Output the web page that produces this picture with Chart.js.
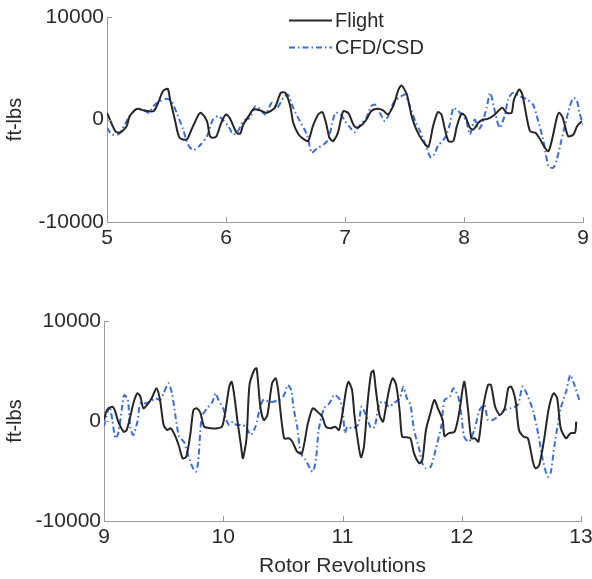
<!DOCTYPE html>
<html>
<head>
<meta charset="utf-8">
<script src="https://cdn.jsdelivr.net/npm/chart.js@4.4.1/dist/chart.umd.min.js"></script>
<style>
  html, body { margin: 0; padding: 0; background: #fff; }
  #wrap { position: relative; width: 592px; height: 579px; }
  #topBox { position: absolute; left: 0; top: 0; width: 592px; height: 260px; }
  #botBox { position: absolute; left: 0; top: 260px; width: 592px; height: 319px; }
</style>
</head>
<body>
<div id="wrap">
  <div id="topBox"><canvas id="topChart"></canvas></div>
  <div id="botBox"><canvas id="botChart"></canvas></div>
</div>
<script>
// Rotor revolutions 5-9: measured flight loads (ft-lbs)
const flightRevA = [5.00,5.07,5.11,5.165,5.19,5.25,5.305,5.39,5.43,5.47,5.51,5.53,5.57,5.61,5.67,5.71,5.77,5.79,5.84,5.865,5.89,5.92,5.96,6.00,6.03,6.09,6.12,6.145,6.19,6.23,6.285,6.34,6.41,6.46,6.50,6.54,6.565,6.61,6.65,6.69,6.73,6.775,6.81,6.84,6.87,6.90,6.94,6.985,7.03,7.07,7.10,7.145,7.18,7.22,7.27,7.32,7.36,7.41,7.45,7.475,7.52,7.56,7.60,7.645,7.70,7.74,7.78,7.81,7.84,7.87,7.91,7.94,7.98,8.01,8.05,8.08,8.12,8.16,8.20,8.26,8.32,8.36,8.40,8.42,8.465,8.49,8.52,8.555,8.60,8.64,8.68,8.71,8.74,8.78,8.80,8.83,8.875,8.92,8.95,8.99];
const flightLoadA = [650,-1140,-1270,-650,320,1040,900,810,1630,2760,3000,1950,0,-1790,-1950,-980,490,650,-160,-1630,-1790,-1630,-320,490,160,-1300,-1370,-490,330,975,900,650,1140,2600,2600,1300,-320,-1460,-1890,-2110,-650,490,715,-320,-1790,-2110,-1300,810,600,-490,-810,-490,0,810,1040,900,490,1460,2930,3320,2440,330,-980,-1950,-2670,-650,715,490,-980,-2110,-2110,-650,585,330,-810,-975,-320,0,65,490,1140,650,650,1950,2930,2440,650,-1140,-1300,-1950,-2760,-3090,-1950,160,650,160,-1630,-1460,-650,-160];

// Rotor revolutions 5-9: CFD/CSD prediction (ft-lbs)
const cfdRevA = [5.00,5.04,5.10,5.15,5.19,5.25,5.305,5.35,5.39,5.43,5.50,5.54,5.585,5.64,5.68,5.725,5.78,5.84,5.89,5.935,5.97,6.02,6.06,6.10,6.145,6.20,6.245,6.285,6.33,6.385,6.43,6.48,6.52,6.565,6.62,6.68,6.72,6.76,6.82,6.86,6.89,6.92,6.965,7.00,7.045,7.08,7.13,7.18,7.22,7.25,7.30,7.335,7.375,7.415,7.475,7.505,7.545,7.59,7.63,7.68,7.72,7.75,7.78,7.84,7.88,7.91,7.935,7.98,8.02,8.05,8.09,8.12,8.15,8.19,8.22,8.25,8.275,8.30,8.345,8.37,8.41,8.47,8.53,8.58,8.62,8.665,8.71,8.75,8.78,8.82,8.86,8.89,8.92,8.95,8.97,9.00];
const cfdLoadA = [-810,-1460,-1400,-490,330,1040,975,650,1300,1700,2020,1790,650,-980,-2440,-2990,-2540,-1630,0,330,0,-650,-1460,-1140,-160,160,1300,1000,490,1630,1140,2110,2440,1140,-160,-1460,-3250,-2860,-2440,-1950,-490,650,490,-160,-810,-1240,-490,160,1300,1460,490,-160,650,1790,2280,2440,1300,-160,-1140,-2600,-3700,-3400,-2600,-1790,-490,1140,975,490,-160,-1460,0,-980,-490,1140,2600,1300,0,-810,490,1950,2600,2280,1950,1460,0,-1950,-4550,-4710,-3900,-1950,0,1300,2110,1790,650,-490];

// Rotor revolutions 9-13: measured flight loads (ft-lbs)
const flightRevB = [9.00,9.025,9.07,9.09,9.12,9.165,9.19,9.22,9.25,9.28,9.305,9.33,9.36,9.40,9.44,9.47,9.50,9.53,9.56,9.60,9.63,9.66,9.69,9.725,9.75,9.78,9.81,9.84,9.90,9.95,9.99,10.02,10.05,10.07,10.09,10.12,10.15,10.165,10.195,10.22,10.26,10.28,10.31,10.34,10.37,10.41,10.44,10.46,10.51,10.55,10.58,10.62,10.66,10.71,10.75,10.79,10.83,10.86,10.90,10.94,10.97,11.00,11.03,11.05,11.08,11.10,11.13,11.155,11.18,11.21,11.24,11.26,11.28,11.31,11.34,11.36,11.39,11.42,11.45,11.48,11.50,11.54,11.57,11.60,11.645,11.67,11.70,11.74,11.77,11.80,11.84,11.855,11.89,11.94,11.98,12.02,12.05,12.08,12.11,12.14,12.175,12.22,12.245,12.28,12.32,12.36,12.39,12.415,12.45,12.48,12.52,12.555,12.60,12.62,12.65,12.69,12.73,12.77,12.80,12.83,12.875,12.91,12.95,12.96];
const flightLoadB = [100,1100,1430,1100,-70,-1070,-900,430,1930,2770,2430,1270,1600,2270,3270,2100,-400,-900,-730,-1570,-2570,-3730,-3570,-1230,1100,1270,770,-570,-730,-730,-570,1100,3430,3930,2770,-70,-2570,-3730,-1730,3600,5100,5270,1500,100,600,3770,4270,3100,-1730,-1730,-2070,-3070,-3230,-230,1270,930,430,-570,-730,-570,-900,770,3100,3930,3100,600,-2070,-3630,-2570,1770,4770,5030,3100,600,-70,1100,3100,4270,3600,930,-1570,-1630,-1730,-3230,-4230,-3900,-900,930,2100,1270,100,-1500,-1230,-1070,930,3930,1430,-1730,-1730,-2070,1100,3600,3600,1430,600,1270,3270,3430,2100,-900,-1570,-1730,-4230,-4730,-4400,-1900,1270,2770,2270,-730,-1730,-1230,-1170,-70];

// Rotor revolutions 9-13: CFD/CSD prediction (ft-lbs)
const cfdRevB = [9.00,9.045,9.07,9.095,9.12,9.15,9.17,9.20,9.22,9.245,9.28,9.305,9.35,9.39,9.43,9.47,9.50,9.54,9.57,9.60,9.63,9.67,9.70,9.74,9.77,9.79,9.82,9.865,9.91,9.935,9.96,10.00,10.02,10.05,10.08,10.11,10.15,10.19,10.23,10.27,10.31,10.34,10.38,10.42,10.47,10.51,10.54,10.57,10.59,10.62,10.65,10.69,10.75,10.78,10.80,10.845,10.89,10.93,10.97,11.00,11.02,11.04,11.08,11.13,11.16,11.19,11.24,11.27,11.31,11.35,11.39,11.43,11.48,11.51,11.54,11.57,11.60,11.645,11.67,11.70,11.74,11.78,11.83,11.855,11.90,11.93,11.97,11.995,12.02,12.06,12.105,12.15,12.19,12.22,12.26,12.30,12.36,12.41,12.47,12.51,12.55,12.60,12.64,12.68,12.72,12.745,12.78,12.83,12.875,12.91,12.94,12.99];
const cfdLoadB = [-500,1430,100,-1730,-1230,1270,2600,2100,-570,-1400,-70,1770,1770,1930,2270,2100,2770,3770,2770,430,-1570,-2070,-3230,-4570,-5070,-4070,430,1270,1930,2770,2100,1270,270,-400,-70,-400,-400,-570,-1400,-570,1430,2170,1930,1930,2100,2600,3600,3100,1270,-570,-3230,-3900,-5070,-3570,-900,1270,1770,2600,2270,1270,-1230,-570,-730,-400,1430,770,-730,-570,1770,1930,1430,1770,2270,3430,2270,1600,-900,-2900,-4230,-4730,-4570,-2900,-400,2100,2430,3270,2430,770,-1570,-2070,-900,1100,1600,100,100,430,1100,1270,1600,3430,2600,930,-1230,-3900,-5570,-5230,-2230,1270,2930,4600,3770,1930];

// Axis ranges and tick values
const topRevTicks = [5, 6, 7, 8, 9];
const botRevTicks = [9, 10, 11, 12, 13];
const loadTicks = [-10000, 0, 10000];
const seriesNames = ['Flight', 'CFD/CSD'];
const xTitle = 'Rotor Revolutions';
const yTitle = 'ft-lbs';

const FONT = '"Liberation Sans", Arial, Helvetica, sans-serif';
const TEXT = '#2a2a2a';
const AXIS = '#9c9c9c';
const FLIGHT_COLOR = '#262626';
const CFD_COLOR = '#3a6ddc';
const CFD_DASH = [6, 3, 1.5, 3];

const pairs = (xs, ys) => xs.map((x, i) => ({ x, y: ys[i] }));

// Short inward tick marks on the left and bottom axes
const innerTicks = {
  id: 'innerTicks',
  afterDatasetsDraw(chart, args, opts) {
    const { ctx, chartArea: a, scales: { x, y } } = chart;
    ctx.save();
    ctx.strokeStyle = AXIS;
    ctx.lineWidth = 1;
    ctx.beginPath();
    opts.xTicks.forEach(v => {
      const px = Math.round(x.getPixelForValue(v)) + 0.5;
      ctx.moveTo(px, a.bottom);
      ctx.lineTo(px, a.bottom - 5);
    });
    opts.yTicks.forEach(v => {
      const py = Math.round(y.getPixelForValue(v)) + 0.5;
      ctx.moveTo(a.left, py);
      ctx.lineTo(a.left + 5, py);
    });
    ctx.stroke();
    ctx.restore();
  }
};

// Series key drawn inside the upper plot
const innerLegend = {
  id: 'innerLegend',
  afterDraw(chart, args, opts) {
    if (!opts.show) return;
    const { ctx, chartArea: a } = chart;
    ctx.save();
    ctx.font = '20px ' + FONT;
    ctx.textBaseline = 'middle';
    ctx.fillStyle = TEXT;
    chart.data.datasets.forEach((ds, i) => {
      const yy = a.top + 3 + i * 27;
      const x0 = a.left + 182;
      ctx.beginPath();
      ctx.strokeStyle = ds.borderColor;
      ctx.lineWidth = 1.8;
      ctx.setLineDash(ds.borderDash || []);
      ctx.moveTo(x0, yy + 0.5);
      ctx.lineTo(x0 + 43, yy + 0.5);
      ctx.stroke();
      ctx.setLineDash([]);
      ctx.fillText(ds.label, x0 + 46, yy + 1);
    });
    ctx.restore();
  }
};

function makePanel(canvasId, flightX, flightY, cfdX, cfdY, revTicks, opts) {
  return new Chart(document.getElementById(canvasId), {
    type: 'line',
    data: {
      datasets: [
        {
          label: seriesNames[0],
          data: pairs(flightX, flightY),
          borderColor: FLIGHT_COLOR,
          borderWidth: 2,
          pointRadius: 0,
          tension: 0.25,
          fill: false
        },
        {
          label: seriesNames[1],
          data: pairs(cfdX, cfdY),
          borderColor: CFD_COLOR,
          borderWidth: 2,
          borderDash: CFD_DASH,
          pointRadius: 0,
          tension: 0.25,
          fill: false
        }
      ]
    },
    options: {
      responsive: false,
      animation: false,
      devicePixelRatio: 1,
      layout: { padding: opts.padding },
      plugins: {
        legend: { display: false },
        tooltip: { enabled: false },
        innerTicks: { xTicks: revTicks, yTicks: loadTicks },
        innerLegend: { show: opts.legend }
      },
      scales: {
        x: {
          type: 'linear',
          min: revTicks[0],
          max: revTicks[revTicks.length - 1],
          afterBuildTicks: s => { s.ticks = revTicks.map(v => ({ value: v })); },
          afterFit: s => { s.height = opts.xHeight; s.paddingLeft = 0; s.paddingRight = 0; },
          grid: { display: false, drawTicks: false },
          border: { display: true, color: AXIS, width: 1 },
          ticks: {
            font: { family: FONT, size: 21 },
            color: TEXT,
            padding: 4,
            maxRotation: 0,
            callback: v => String(v)
          },
          title: {
            display: !!opts.xTitle,
            text: xTitle,
            font: { family: FONT, size: 21 },
            color: TEXT,
            padding: { top: 0, bottom: 0 }
          }
        },
        y: {
          type: 'linear',
          min: loadTicks[0],
          max: loadTicks[loadTicks.length - 1],
          afterBuildTicks: s => { s.ticks = loadTicks.map(v => ({ value: v })); },
          afterFit: s => { s.width = opts.yWidth; },
          grid: { display: false, drawTicks: false },
          border: { display: true, color: AXIS, width: 1 },
          ticks: {
            font: { family: FONT, size: 21 },
            color: TEXT,
            padding: 3,
            callback: v => String(v)
          },
          title: {
            display: true,
            text: yTitle,
            font: { family: FONT, size: 20 },
            color: TEXT,
            padding: { top: 3, bottom: 0 }
          }
        }
      }
    },
    plugins: [innerTicks, innerLegend]
  });
}

const topCanvas = document.getElementById('topChart');
topCanvas.width = 592; topCanvas.height = 260;
const botCanvas = document.getElementById('botChart');
botCanvas.width = 592; botCanvas.height = 319;

makePanel('topChart', flightRevA, flightLoadA, cfdRevA, cfdLoadA, topRevTicks,
  { padding: { left: 0, right: 9, top: 17, bottom: 0 }, xHeight: 38, yWidth: 107, legend: true, xTitle: false });
makePanel('botChart', flightRevB, flightLoadB, cfdRevB, cfdLoadB, botRevTicks,
  { padding: { left: 0, right: 11, top: 61, bottom: 0 }, xHeight: 58, yWidth: 104, legend: false, xTitle: true });
</script>
</body>
</html>
